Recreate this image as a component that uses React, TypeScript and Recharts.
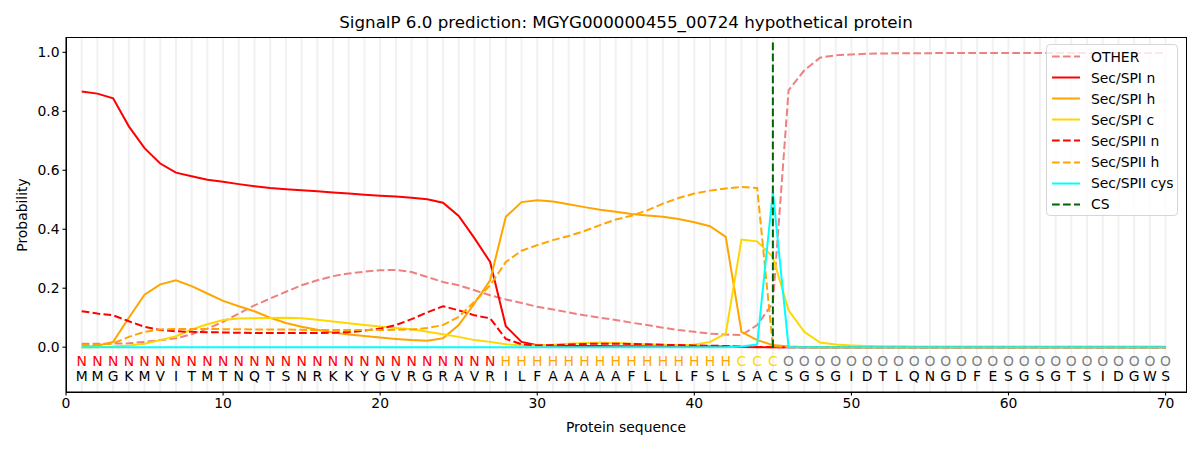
import React from 'react';
import { LineChart, Line, XAxis, YAxis, ReferenceLine } from 'recharts';

// ---------- data ----------
const positions = [
  1, 2, 3, 4, 5, 6, 7, 8, 9, 10, 11, 12, 13, 14, 15, 16, 17, 18, 19, 20,
  21, 22, 23, 24, 25, 26, 27, 28, 29, 30, 31, 32, 33, 34, 35, 36, 37, 38, 39, 40,
  41, 42, 43, 44, 45, 46, 47, 48, 49, 50, 51, 52, 53, 54, 55, 56, 57, 58, 59, 60,
  61, 62, 63, 64, 65, 66, 67, 68, 69, 70,
];

const sequence = 'MMGKMVITMTNQTSNRKKYGVRGRAVRILFAAAAAFLLLFSLSACSGSGIDTLQNGDFESGSGTSIDGWS'.split('');
const regionLabels = ('NNNNNNNNNNNNNNNNNNNNNNNNNNN' + 'HHHHHHHHHHHHHHH' + 'CCC' + 'OOOOOOOOOOOOOOOOOOOOOOOOO').split('');

const other = [
  0.012, 0.012, 0.012, 0.013, 0.018, 0.024, 0.03, 0.044, 0.063, 0.086,
  0.114, 0.142, 0.165, 0.188, 0.21, 0.227, 0.241, 0.25, 0.256, 0.261,
  0.262, 0.255, 0.238, 0.221, 0.21, 0.193, 0.176, 0.162, 0.15, 0.137,
  0.128, 0.118, 0.108, 0.1, 0.092, 0.083, 0.075, 0.066, 0.058, 0.052,
  0.046, 0.043, 0.041, 0.075, 0.15, 0.871, 0.939, 0.982, 0.99, 0.993,
  0.995, 0.996, 0.997, 0.997, 0.997, 0.998, 0.998, 0.998, 0.998, 0.998,
  0.998, 0.998, 0.998, 0.998, 0.998, 0.998, 0.998, 0.998, 0.998, 0.998,
];

const spiN = [
  0.867, 0.86, 0.844, 0.749, 0.675, 0.623, 0.592, 0.58, 0.568, 0.561,
  0.553, 0.546, 0.54, 0.536, 0.532, 0.529, 0.525, 0.521, 0.517, 0.514,
  0.511, 0.507, 0.502, 0.49, 0.445, 0.37, 0.289, 0.071, 0.018, 0.007,
  0.005, 0.004, 0.004, 0.004, 0.003, 0.003, 0.003, 0.003, 0.003, 0.002,
  0.002, 0.002, 0.001, 0, 0, 0, 0, 0, 0, 0,
  0, 0, 0, 0, 0, 0, 0, 0, 0, 0,
  0, 0, 0, 0, 0, 0, 0, 0, 0, 0,
];

const spiH = [
  0.0, 0.005, 0.018, 0.1, 0.178, 0.213, 0.227, 0.207, 0.182, 0.157,
  0.139, 0.122, 0.1, 0.082, 0.069, 0.059, 0.05, 0.043, 0.038, 0.033,
  0.028, 0.024, 0.022, 0.03, 0.075, 0.148, 0.227, 0.442, 0.492, 0.498,
  0.494, 0.485, 0.475, 0.466, 0.459, 0.452, 0.447, 0.442, 0.435, 0.424,
  0.41, 0.374, 0.052, 0.024, 0.007, 0.002, 0.001, 0, 0, 0,
  0, 0, 0, 0, 0, 0, 0, 0, 0, 0,
  0, 0, 0, 0, 0, 0, 0, 0, 0, 0,
];

const spiC = [
  0, 0, 0.002, 0.006, 0.012, 0.024, 0.037, 0.06, 0.078, 0.092,
  0.097, 0.098, 0.099, 0.1, 0.098, 0.093, 0.087, 0.081, 0.075, 0.07,
  0.065, 0.061, 0.052, 0.044, 0.035, 0.024, 0.018, 0.01, 0.006, 0.006,
  0.008, 0.012, 0.014, 0.015, 0.014, 0.012, 0.01, 0.008, 0.007, 0.008,
  0.018, 0.046, 0.365, 0.359, 0.306, 0.125, 0.052, 0.016, 0.009, 0.006,
  0.004, 0.003, 0.003, 0.002, 0.002, 0.002, 0.002, 0.002, 0.002, 0.002,
  0.002, 0.002, 0.002, 0.002, 0.002, 0.002, 0.002, 0.002, 0.002, 0.002,
];

const spiiN = [
  0.122, 0.114, 0.108, 0.088, 0.069, 0.058, 0.054, 0.052, 0.051, 0.05,
  0.049, 0.048, 0.048, 0.048, 0.048, 0.048, 0.049, 0.051, 0.056, 0.063,
  0.075, 0.095, 0.118, 0.139, 0.125, 0.108, 0.098, 0.028, 0.01, 0.006,
  0.007, 0.009, 0.011, 0.012, 0.012, 0.011, 0.01, 0.008, 0.007, 0.006,
  0.005, 0.004, 0.002, 0.001, 0, 0, 0, 0, 0, 0,
  0, 0, 0, 0, 0, 0, 0, 0, 0, 0,
  0, 0, 0, 0, 0, 0, 0, 0, 0, 0,
];

const spiiH = [
  0.007, 0.008, 0.013, 0.035, 0.052, 0.06, 0.062, 0.062, 0.062, 0.061,
  0.061, 0.06, 0.06, 0.06, 0.059, 0.058, 0.058, 0.058, 0.058, 0.058,
  0.059, 0.06, 0.065, 0.075, 0.103, 0.154, 0.21, 0.289, 0.327, 0.346,
  0.363, 0.377, 0.394, 0.414, 0.433, 0.446, 0.464, 0.487, 0.506, 0.521,
  0.531, 0.538, 0.543, 0.54, 0.003, 0.001, 0, 0, 0, 0,
  0, 0, 0, 0, 0, 0, 0, 0, 0, 0,
  0, 0, 0, 0, 0, 0, 0, 0, 0, 0,
];

const spiiCys = [
  0, 0, 0, 0, 0, 0, 0, 0, 0, 0,
  0, 0, 0, 0, 0, 0, 0, 0, 0, 0,
  0, 0, 0, 0, 0, 0, 0, 0, 0, 0,
  0, 0, 0, 0, 0, 0, 0, 0, 0, 0,
  0, 0, 0.002, 0.009, 0.527, 0, 0, 0, 0, 0,
  0, 0, 0, 0, 0, 0, 0, 0, 0, 0,
  0, 0, 0, 0, 0, 0, 0, 0, 0, 0,
];

const csPosition = 45;
const csTop = 1.038;

const xTicks = [0, 10, 20, 30, 40, 50, 60, 70];
const yTicks = [0, 0.2, 0.4, 0.6, 0.8, 1.0];

const title = 'SignalP 6.0 prediction: MGYG000000455_00724 hypothetical protein';

// ---------- styling / layout ----------
const FONT = "'DejaVu Sans', sans-serif";
const DASH = '7.7 3.3';
const X_DOMAIN: [number, number] = [0, 71.3];
const Y_DOMAIN: [number, number] = [-0.152, 1.052];
const ROW_REGION = -0.047;
const ROW_SEQ = -0.097;

const CHART_W = 1200;
const CHART_H = 450;
const MARGIN = { top: 37, right: 14, bottom: 0, left: 0 };
const Y_AXIS_W = 66;
const X_AXIS_H = 58;
const PLOT = {
  left: MARGIN.left + Y_AXIS_W,
  top: MARGIN.top,
  right: CHART_W - MARGIN.right,
  bottom: CHART_H - MARGIN.bottom - X_AXIS_H,
};

const regionColor: Record<string, string> = {
  N: '#ff0000',
  H: '#ffa500',
  C: '#ffd700',
  O: '#808080',
};

const series = [
  { key: 'other', name: 'OTHER', color: '#f08080', dash: true },
  { key: 'spiN', name: 'Sec/SPI n', color: '#ff0000', dash: false },
  { key: 'spiH', name: 'Sec/SPI h', color: '#ffa500', dash: false },
  { key: 'spiC', name: 'Sec/SPI c', color: '#ffd700', dash: false },
  { key: 'spiiN', name: 'Sec/SPII n', color: '#ff0000', dash: true },
  { key: 'spiiH', name: 'Sec/SPII h', color: '#ffa500', dash: true },
  { key: 'spiiCys', name: 'Sec/SPII cys', color: '#00ffff', dash: false },
];

const legendItems = [
  ...series.map((s) => ({ name: s.name, color: s.color, dash: s.dash })),
  { name: 'CS', color: '#006400', dash: true },
];

const data = positions.map((p, i) => ({
  pos: p,
  other: other[i],
  spiN: spiN[i],
  spiH: spiH[i],
  spiC: spiC[i],
  spiiN: spiiN[i],
  spiiH: spiiH[i],
  spiiCys: spiiCys[i],
  region: regionLabels[i],
  residue: sequence[i],
  rowRegion: ROW_REGION,
  rowSeq: ROW_SEQ,
}));

const renderRegion = (props: any) => {
  const { cx, cy, payload, index } = props;
  if (cx == null || cy == null) return <g key={`r-${index}`} />;
  return (
    <text
      key={`r-${index}`}
      x={cx}
      y={cy}
      textAnchor="middle"
      dominantBaseline="central"
      fontSize={13.9}
      fontFamily={FONT}
      fill={regionColor[payload.region]}
    >
      {payload.region}
    </text>
  );
};

const renderResidue = (props: any) => {
  const { cx, cy, payload, index } = props;
  if (cx == null || cy == null) return <g key={`s-${index}`} />;
  return (
    <text
      key={`s-${index}`}
      x={cx}
      y={cy}
      textAnchor="middle"
      dominantBaseline="central"
      fontSize={13.9}
      fontFamily={FONT}
      fill="#000000"
    >
      {payload.residue}
    </text>
  );
};

const tickStyle = { fontSize: 13.9, fill: '#000000', fontFamily: FONT };

export default function App() {
  return (
    <div
      style={{
        position: 'absolute',
        left: 0,
        top: 0,
        width: CHART_W,
        height: CHART_H,
        background: '#ffffff',
        fontFamily: FONT,
      }}
    >
      <LineChart width={CHART_W} height={CHART_H} data={data} margin={MARGIN}>
        {positions.map((p) => (
          <ReferenceLine key={`g-${p}`} x={p} stroke="#f1f1f1" strokeWidth={2} />
        ))}
        <XAxis
          dataKey="pos"
          type="number"
          domain={X_DOMAIN}
          ticks={xTicks}
          allowDataOverflow
          height={X_AXIS_H}
          tick={tickStyle}
          tickSize={3.5}
          tickMargin={3}
          axisLine={{ stroke: '#000000', strokeWidth: 1.1 }}
          tickLine={{ stroke: '#000000', strokeWidth: 1.1 }}
        />
        <YAxis
          type="number"
          domain={Y_DOMAIN}
          ticks={yTicks}
          allowDataOverflow
          width={Y_AXIS_W}
          tick={tickStyle}
          tickFormatter={(v: number) => v.toFixed(1)}
          tickSize={3.5}
          tickMargin={3}
          axisLine={{ stroke: '#000000', strokeWidth: 1.1 }}
          tickLine={{ stroke: '#000000', strokeWidth: 1.1 }}
        />
        {series.map((s) => (
          <Line
            key={s.key}
            dataKey={s.key}
            name={s.name}
            type="linear"
            stroke={s.color}
            strokeWidth={2}
            strokeDasharray={s.dash ? DASH : undefined}
            dot={false}
            activeDot={false}
            isAnimationActive={false}
          />
        ))}
        <ReferenceLine
          segment={[
            { x: csPosition, y: 0 },
            { x: csPosition, y: csTop },
          ]}
          stroke="#006400"
          strokeWidth={2}
          strokeDasharray={DASH}
          ifOverflow="visible"
        />
        <Line
          dataKey="rowRegion"
          stroke="none"
          dot={renderRegion}
          activeDot={false}
          legendType="none"
          isAnimationActive={false}
        />
        <Line
          dataKey="rowSeq"
          stroke="none"
          dot={renderResidue}
          activeDot={false}
          legendType="none"
          isAnimationActive={false}
        />
      </LineChart>

      {/* plot frame (top and right spines) */}
      <div
        style={{
          position: 'absolute',
          left: PLOT.left - 0.5,
          top: PLOT.top - 0.5,
          width: PLOT.right - PLOT.left + 1,
          height: PLOT.bottom - PLOT.top + 1,
          border: '1.1px solid #000000',
          boxSizing: 'border-box',
          pointerEvents: 'none',
        }}
      />

      {/* title */}
      <div
        style={{
          position: 'absolute',
          left: PLOT.left,
          width: PLOT.right - PLOT.left,
          top: 12,
          textAlign: 'center',
          fontSize: 16.7,
          lineHeight: '20px',
          color: '#000',
          whiteSpace: 'nowrap',
        }}
      >
        {title}
      </div>

      {/* x label */}
      <div
        style={{
          position: 'absolute',
          left: PLOT.left,
          width: PLOT.right - PLOT.left,
          top: 419,
          textAlign: 'center',
          fontSize: 13.9,
          lineHeight: '17px',
          color: '#000',
        }}
      >
        Protein sequence
      </div>

      {/* y label */}
      <div
        style={{
          position: 'absolute',
          left: 22,
          top: (PLOT.top + PLOT.bottom) / 2,
          transform: 'translate(-50%, -50%) rotate(-90deg)',
          fontSize: 13.9,
          lineHeight: '17px',
          color: '#000',
          whiteSpace: 'nowrap',
        }}
      >
        Probability
      </div>

      {/* legend */}
      <div
        style={{
          position: 'absolute',
          left: 1046,
          top: 44,
          width: 132,
          height: 172,
          border: '1px solid #d6d6d6',
          borderRadius: 4,
          background: 'rgba(255,255,255,0.8)',
          boxSizing: 'border-box',
        }}
      >
        {legendItems.map((item, i) => (
          <div
            key={item.name}
            style={{
              position: 'absolute',
              left: 0,
              top: 1 + i * 21.1,
              height: 21,
              display: 'flex',
              alignItems: 'center',
              whiteSpace: 'nowrap',
            }}
          >
            <svg width={44} height={21} style={{ display: 'block' }}>
              <line
                x1={5}
                x2={33}
                y1={10.5}
                y2={10.5}
                stroke={item.color}
                strokeWidth={2}
                strokeDasharray={item.dash ? DASH : undefined}
              />
            </svg>
            <span style={{ fontSize: 13.9, color: '#000' }}>{item.name}</span>
          </div>
        ))}
      </div>
    </div>
  );
}
